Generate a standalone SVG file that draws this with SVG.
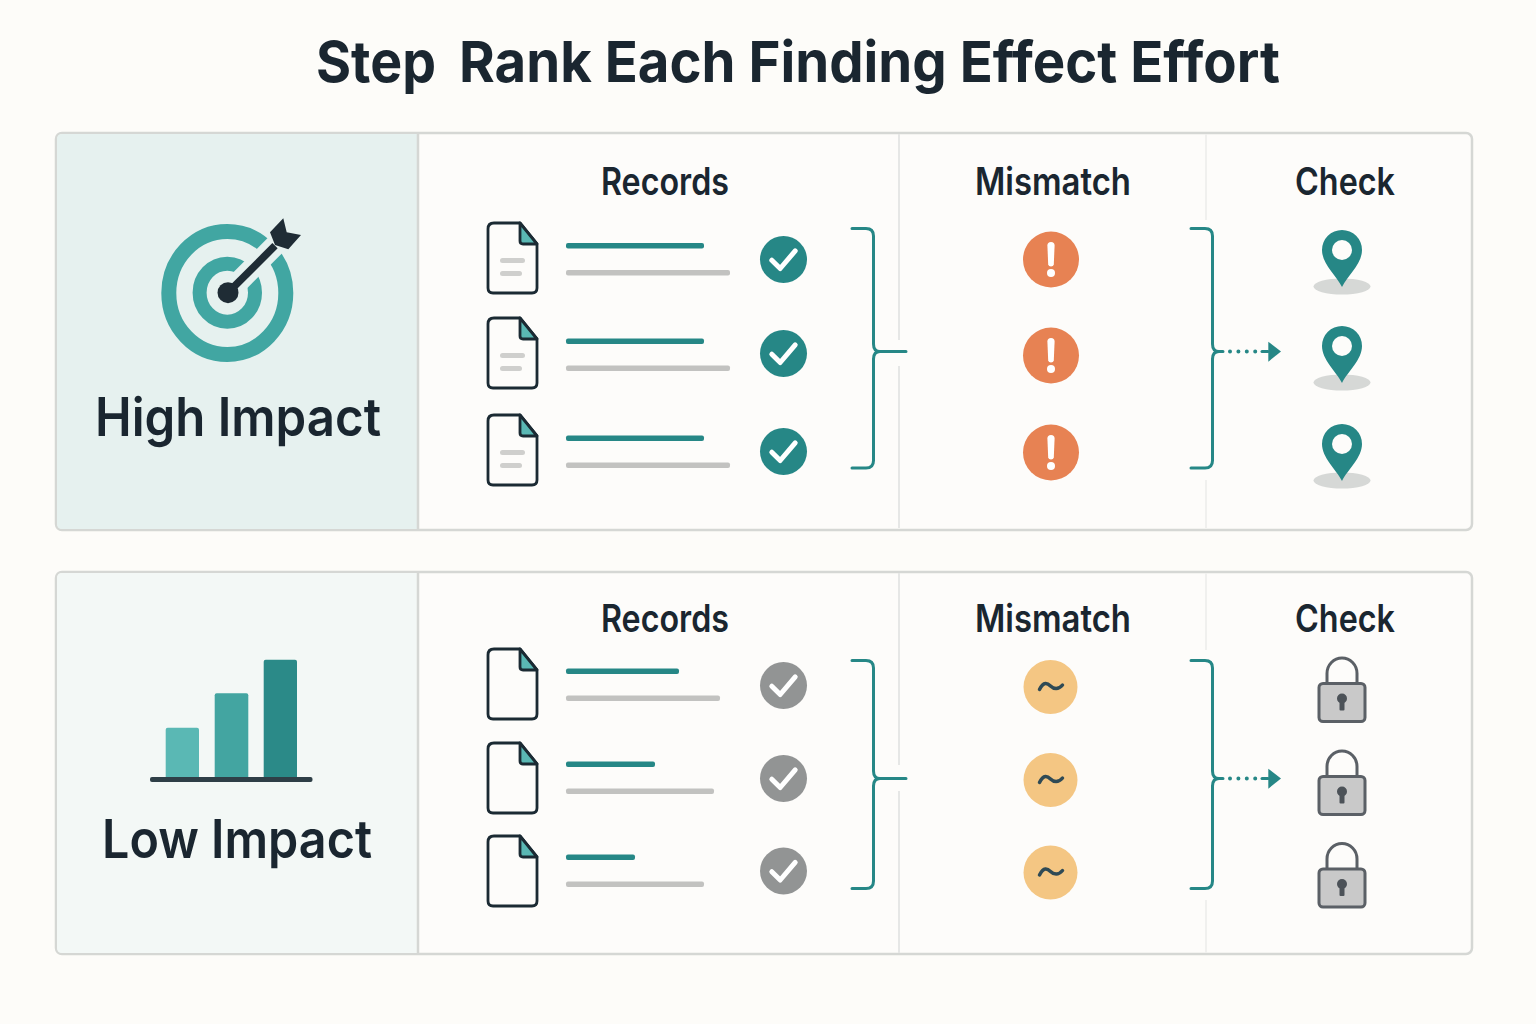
<svg xmlns="http://www.w3.org/2000/svg" width="1536" height="1024" viewBox="0 0 1536 1024">
<style>
text{font-family:"Inter","Liberation Sans",sans-serif;font-weight:600;fill:#1a2630}
.title{font-size:57px;font-weight:700}
.col{font-size:38px;text-anchor:middle}
.big{font-size:53px}
.panel{fill:#fdfcfa;stroke:#d5d7d4;stroke-width:2.5}
.sep1{stroke:#e6e7e6;stroke-width:2;fill:none}
.sep2{stroke:#f0f0ee;stroke-width:2;fill:none}
.div{stroke:#d5d7d4;stroke-width:2.5;fill:none}
.teal{fill:#268786}
.grey{fill:#c2c2c0}
.conn{fill:none;stroke:#268786;stroke-width:3;stroke-linecap:round}
.dots{fill:none;stroke:#268786;stroke-width:4;stroke-linecap:round;stroke-dasharray:0 8.4}
.tip{fill:#268786}
.tick{fill:none;stroke:#fff;stroke-width:5;stroke-linecap:round;stroke-linejoin:round}
.tilde{fill:none;stroke:#2f4a55;stroke-width:3.5;stroke-linecap:round}
</style>
<defs>
<g id="doc"><path d="M494 0H520L537 21V65Q537 70 532 70H493Q488 70 488 65V6Q488 0 494 0Z" fill="#fdfcfa" stroke="#1b2a33" stroke-width="2.8" stroke-linejoin="round"/><path d="M520 0L537 21H523Q520 21 520 18Z" fill="#5ab8b4" stroke="#1b2a33" stroke-width="2.8" stroke-linejoin="round"/></g>
<g id="doclines"><rect x="500" y="35" width="25" height="5" rx="2.5" fill="#cfcfcd"/><rect x="500" y="48" width="22" height="5" rx="2.5" fill="#cfcfcd"/></g>
<path id="tk" class="tick" d="M-11.7 .7L-3.3 9L11.7 -8.6"/>
<g id="alert"><circle r="28" fill="#e78253"/><path d="M-3.6 -14Q-3.6 -17.5 0 -17.5Q3.6 -17.5 3.6 -14L2.8 5Q2.400 7 0 7Q-2.400 7 -2.8 5Z" fill="#fff"/><circle cy="13.500" r="4" fill="#fff"/></g>
<g id="pin"><ellipse cx="0" cy="56.500" rx="28.500" ry="8" fill="#d6d8d6"/><path d="M0 57C-6 45 -20 34 -20 20A20 20 0 0 1 20 20C20 34 6 45 0 57Z" fill="#268786"/><circle cy="20" r="10" fill="#fdfcfa"/></g>
<g id="approx"><circle r="27" fill="#f4c683"/><path class="tilde" d="M-11 2.500C-7 -6 -3 -4 0 -1C3 2 8 3 12 -2"/></g>
<g id="lock"><path d="M-15 26V16A15 15.500 0 0 1 15 16V26" fill="none" stroke="#5b6066" stroke-width="3"/><rect x="-23" y="26" width="46" height="38" rx="4" fill="#c9c9c9" stroke="#5b6066" stroke-width="3"/><circle cy="41" r="5" fill="#4c5258"/><rect x="-2.500" y="41" width="5" height="12" rx="1" fill="#4c5258"/></g>
</defs>
<rect width="1536" height="1024" fill="#fdfcf9"/>
<text id="title" class="title" y="82"><tspan x="316" textLength="120" lengthAdjust="spacingAndGlyphs">Step</tspan> <tspan x="459" textLength="821" lengthAdjust="spacingAndGlyphs">Rank Each Finding Effect Effort</tspan></text>

<g id="panel-high">
<rect class="panel" x="56" y="133" width="1416" height="397" rx="6"/>
<path d="M62 134H418V529H62Q57 529 57 524V139Q57 134 62 134Z" fill="#e6f1ef"/>
<path class="div" d="M418 133V530"/>
<path class="sep1" d="M899 134V340M899 366V528"/>
<path class="sep2" d="M1206 134V220M1206 480V528"/>
<g id="target">
<ellipse cx="227.300" cy="293" rx="58.500" ry="61.500" fill="none" stroke="#41a6a2" stroke-width="15"/>
<ellipse cx="227.300" cy="292.700" rx="27.700" ry="29" fill="none" stroke="#41a6a2" stroke-width="14"/>
<path d="M227.500 293L298 222.500" stroke="#e6f1ef" stroke-width="21"/>
<path d="M228 292.700L275 245.700" stroke="#1f2c35" stroke-width="7.500"/>
<circle cx="228" cy="292.700" r="10.500" fill="#1f2c35"/>
<path d="M283.300 218.300L286.700 232.300L301 235L288.300 249.300L275 245L270 232.300Z" fill="#1f2c35"/>
</g>
<text class="big" x="95" y="436" textLength="286" lengthAdjust="spacingAndGlyphs">High Impact</text>
<text class="col" x="665" y="194.500" textLength="128" lengthAdjust="spacingAndGlyphs">Records</text>
<text class="col" x="1053" y="194.500" textLength="156" lengthAdjust="spacingAndGlyphs">Mismatch</text>
<text class="col" x="1345" y="194.500" textLength="100" lengthAdjust="spacingAndGlyphs">Check</text>
</g>

<g id="panel-low">
<rect class="panel" x="56" y="572" width="1416" height="382" rx="6"/>
<path d="M62 573H418V953H62Q57 953 57 948V578Q57 573 62 573Z" fill="#f3f8f6"/>
<path class="div" d="M418 572V954"/>
<path class="sep1" d="M899 573V765M899 791V953"/>
<path class="sep2" d="M1206 573V650M1206 900V953"/>
<g id="bars">
<rect x="165.700" y="727.700" width="33.300" height="52" rx="2" fill="#5ab8b4"/>
<rect x="214.700" y="693.300" width="33.600" height="86" rx="2" fill="#43a5a1"/>
<rect x="263.700" y="659.700" width="33.300" height="120" rx="2" fill="#2b8a88"/>
<rect x="150" y="777" width="162.500" height="5" rx="2" fill="#2e3f47"/>
</g>
<text class="big" x="102" y="858" textLength="270" lengthAdjust="spacingAndGlyphs">Low Impact</text>
<text class="col" x="665" y="631.500" textLength="128" lengthAdjust="spacingAndGlyphs">Records</text>
<text class="col" x="1053" y="631.500" textLength="156" lengthAdjust="spacingAndGlyphs">Mismatch</text>
<text class="col" x="1345" y="631.500" textLength="100" lengthAdjust="spacingAndGlyphs">Check</text>
</g>

<g id="connectors">
<path class="conn" d="M852 228.500H866Q873.500 228.500 873.500 236V344Q873.500 351.500 880 351.500H906M880 351.500Q873.500 351.500 873.500 359V460.500Q873.500 468 866 468H852"/>
<path class="conn" d="M1191 228.500H1205Q1212.500 228.500 1212.500 236V344Q1212.500 351.500 1219 351.500H1223M1219 351.500Q1212.500 351.500 1212.500 359V460.500Q1212.500 468 1205 468H1191"/>
<path class="dots" d="M1230 351.500H1256"/><path class="conn" d="M1262 351.500H1268"/>
<path class="tip" d="M1268.300 341.700L1281 351.500L1268.300 361.700Z"/>
<path class="conn" d="M852 660.500H866Q873.500 660.500 873.500 668V771Q873.500 778.500 880 778.500H906M880 778.500Q873.500 778.500 873.500 786V881Q873.500 888.500 866 888.500H852"/>
<path class="conn" d="M1191 660.500H1205Q1212.500 660.500 1212.500 668V771Q1212.500 778.500 1219 778.500H1223M1219 778.500Q1212.500 778.500 1212.500 786V881Q1212.500 888.500 1205 888.500H1191"/>
<path class="dots" d="M1230 778.500H1256"/><path class="conn" d="M1262 778.500H1268"/>
<path class="tip" d="M1268.300 768.700L1281 778.500L1268.300 788.700Z"/>
</g>

<g id="h-rec-1"><use href="#doc" y="223"/><use href="#doclines" y="223"/><rect class="teal" x="566" y="243" width="138" height="5.500" rx="2"/><rect class="grey" x="566" y="270" width="164" height="5.500" rx="2"/><circle class="teal" cx="783.500" cy="259.500" r="23.500"/><use href="#tk" x="783.500" y="259.500"/></g>
<g id="h-rec-2"><use href="#doc" y="318"/><use href="#doclines" y="318"/><rect class="teal" x="566" y="338.500" width="138" height="5.500" rx="2"/><rect class="grey" x="566" y="365.500" width="164" height="5.500" rx="2"/><circle class="teal" cx="783.500" cy="353.500" r="23.500"/><use href="#tk" x="783.500" y="353.500"/></g>
<g id="h-rec-3"><use href="#doc" y="415"/><use href="#doclines" y="415"/><rect class="teal" x="566" y="435.500" width="138" height="5.500" rx="2"/><rect class="grey" x="566" y="462.500" width="164" height="5.500" rx="2"/><circle class="teal" cx="783.500" cy="451.500" r="23.500"/><use href="#tk" x="783.500" y="451.500"/></g>
<g id="h-mis-1"><use href="#alert" x="1051" y="259.500"/></g>
<g id="h-mis-2"><use href="#alert" x="1051" y="355.500"/></g>
<g id="h-mis-3"><use href="#alert" x="1051" y="452.500"/></g>
<g id="h-chk-1"><use href="#pin" x="1342" y="230"/></g>
<g id="h-chk-2"><use href="#pin" x="1342" y="326"/></g>
<g id="h-chk-3"><use href="#pin" x="1342" y="424"/></g>

<g id="l-rec-1"><use href="#doc" y="649"/><rect class="teal" x="566" y="668.500" width="113" height="5.500" rx="2"/><rect class="grey" x="566" y="695.500" width="154" height="5.500" rx="2"/><circle fill="#929494" cx="783.500" cy="685.500" r="23.500"/><use href="#tk" x="783.500" y="685.500"/></g>
<g id="l-rec-2"><use href="#doc" y="743"/><rect class="teal" x="566" y="761.500" width="89" height="5.500" rx="2"/><rect class="grey" x="566" y="788.500" width="148" height="5.500" rx="2"/><circle fill="#929494" cx="783.500" cy="778.500" r="23.500"/><use href="#tk" x="783.500" y="778.500"/></g>
<g id="l-rec-3"><use href="#doc" y="836"/><rect class="teal" x="566" y="854.500" width="69" height="5.500" rx="2"/><rect class="grey" x="566" y="881.500" width="138" height="5.500" rx="2"/><circle fill="#929494" cx="783.500" cy="871" r="23.500"/><use href="#tk" x="783.500" y="871"/></g>
<g id="l-mis-1"><use href="#approx" x="1050.500" y="687"/></g>
<g id="l-mis-2"><use href="#approx" x="1050.500" y="780"/></g>
<g id="l-mis-3"><use href="#approx" x="1050.500" y="872.500"/></g>
<g id="l-chk-1"><use href="#lock" x="1342" y="657.500"/></g>
<g id="l-chk-2"><use href="#lock" x="1342" y="750.500"/></g>
<g id="l-chk-3"><use href="#lock" x="1342" y="843"/></g>
</svg>
